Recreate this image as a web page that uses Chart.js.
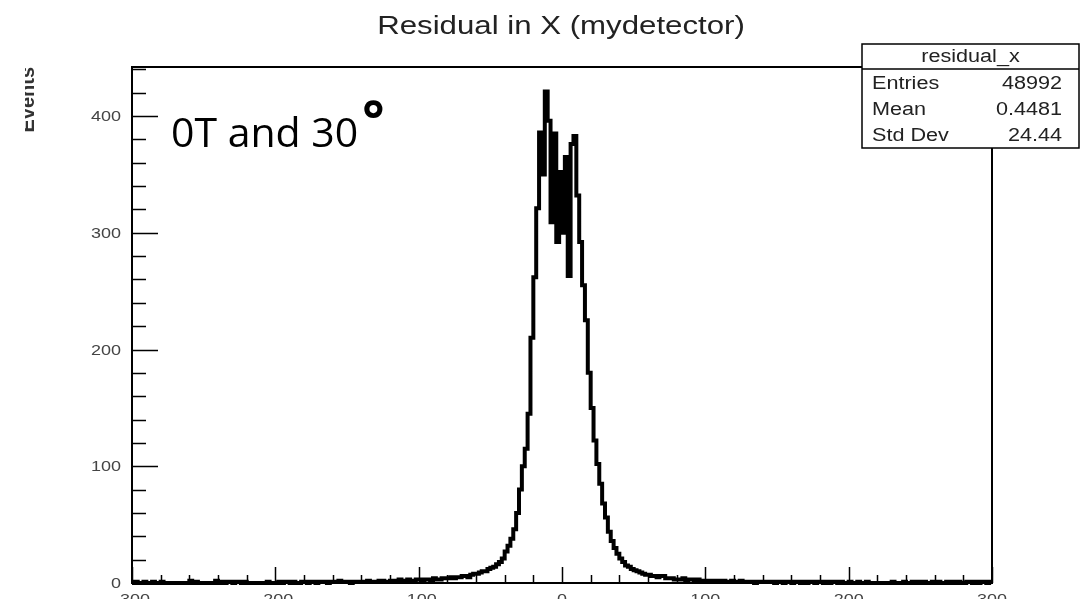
<!DOCTYPE html>
<html>
<head>
<meta charset="utf-8">
<script src="https://cdn.jsdelivr.net/npm/chart.js@4/dist/chart.umd.min.js"></script>
<style>
  html, body { margin: 0; padding: 0; background: #fff; }
  #wrap { width: 1089px; height: 599px; position: relative; }
</style>
</head>
<body>
<div id="wrap"><canvas id="residChart"></canvas></div>
<script>
// histogram binning (2 units per bin, -300 .. 300)
const xMin = -300;
const xMax = 300;
const binWidth = 2;
const yMax = 442;

// bin contents, left to right
const counts = [
  // -300 .. -200
  0,1,0,0,1,0,0,1,0,0, 1,0,0,0,0,0,0,0,0,0, 2,0,1,0,0,0,0,0,0,2,
  0,1,0,1,1,0,1,1,0,1, 0,0,0,0,0,0,0,1,0,0,
  // -200 .. -100
  0,1,0,1,1,0,1,0,0,1, 1,0,1,1,0,1,1,1,0,1, 1,1,2,1,1,1,0,1,1,1,
  1,1,2,1,1,1,2,2,1,1, 2,1,2,3,2,2,3,2,2,3,
  // -100 .. 0
  3,2,3,3,2,4,3,3,4,4, 4,5,4,5,5,6,6,5,7,8, 8,9,10,10,12,13,14,16,18,21,
  27,32,38,46,60,80,100,115,145,210, 262,321,386,350,421,396,309,385,292,352,
  // 0 .. 100
  300,365,263,376,383,332,292,255,225,180, 150,122,102,85,68,56,44,36,30,25,
  21,18,15,14,12,11,10,9,8,7, 7,6,6,5,6,6,4,4,4,3, 3,3,4,2,3,3,2,3,2,2,
  // 100 .. 200
  2,2,1,2,2,1,2,1,1,2, 1,1,2,1,1,1,1,0,1,1, 1,1,1,1,0,1,1,0,1,1,
  0,1,1,0,1,0,1,1,0,1, 1,0,1,0,1,1,0,1,0,0,
  // 200 .. 300
  1,0,0,1,0,0,1,0,0,0, 0,0,0,0,0,1,0,0,0,1, 0,0,1,0,1,0,1,0,0,1,
  0,1,0,0,1,0,1,0,1,0, 0,1,1,0,1,0,1,1,0,1
];

const xTickValues = [-300, -200, -100, 0, 100, 200, 300];
const xTickLabels = ['-300', '-200', '-100', '0', '100', '200', '300'];
const yTickValues = [0, 100, 200, 300, 400];
const yTickLabels = ['0', '100', '200', '300', '400'];

const titleText = 'Residual in X (mydetector)';
const yTitle = 'Events';
const noteText = '0T and 30';
const noteDegree = '\u00B0';
const statsTitle = 'residual_x';
const statsNames = ['Entries', 'Mean', 'Std Dev'];
const statsValues = ['48992', '0.4481', '24.44'];

// step outline points at the bin edges
const points = [];
for (let i = 0; i <= counts.length; i++) {
  points.push({ x: xMin + i * binWidth, y: counts[Math.min(i, counts.length - 1)] });
}

const ROOT_FONT = '"Liberation Sans", Arial, sans-serif';

function stretchText(ctx, str, x, y, size, align, base, sx) {
  ctx.save();
  ctx.translate(x, y);
  ctx.scale(sx, 1);
  ctx.font = size + 'px ' + ROOT_FONT;
  ctx.textAlign = align;
  ctx.textBaseline = base;
  ctx.fillText(str, 0, 0);
  ctx.restore();
}

const decor = {
  id: 'decor',
  afterDatasetsDraw(chart) {
    const { ctx, chartArea: a, scales: { x, y } } = chart;
    ctx.save();

    // frame
    ctx.strokeStyle = '#000';
    ctx.lineWidth = 2;
    ctx.strokeRect(a.left, a.top, a.right - a.left, a.bottom - a.top);

    // y ticks (inside, every 20)
    ctx.lineWidth = 1.5;
    ctx.beginPath();
    for (let v = 0; v <= yMax; v += 20) {
      const py = Math.round(y.getPixelForValue(v)) + 0.5;
      const len = v % 100 === 0 ? 26 : 14;
      ctx.moveTo(a.left, py);
      ctx.lineTo(a.left + len, py);
    }
    // x ticks (inside, every 20)
    for (let v = xMin; v <= xMax; v += 20) {
      const px = Math.round(x.getPixelForValue(v)) + 0.5;
      const len = v % 100 === 0 ? 16 : 8;
      ctx.moveTo(px, a.bottom);
      ctx.lineTo(px, a.bottom - len);
    }
    ctx.stroke();

    // tick labels
    ctx.fillStyle = '#444';
    yTickValues.forEach((v, i) => {
      stretchText(ctx, yTickLabels[i], 121, y.getPixelForValue(v) + 1, 15, 'right', 'middle', 1.2);
    });
    xTickValues.forEach((v, i) => {
      stretchText(ctx, xTickLabels[i], x.getPixelForValue(v), 592, 15, 'center', 'top', 1.2);
    });

    // title
    ctx.fillStyle = '#222';
    stretchText(ctx, titleText, 561, 34, 26, 'center', 'alphabetic', 1.2);

    // y axis title, partly cut at the left like the picture
    ctx.save();
    ctx.beginPath();
    ctx.rect(25, 0, 40, 200);
    ctx.clip();
    ctx.translate(34, 67);
    ctx.rotate(-Math.PI / 2);
    ctx.font = 'bold 20px ' + ROOT_FONT;
    ctx.textAlign = 'right';
    ctx.textBaseline = 'alphabetic';
    ctx.fillStyle = '#333';
    ctx.fillText(yTitle, 0, 0);
    ctx.restore();

    // annotation
    ctx.fillStyle = '#000';
    ctx.font = '41px "Open Sans", "Noto Sans", sans-serif';
    ctx.textAlign = 'left';
    ctx.textBaseline = 'alphabetic';
    ctx.fillText(noteText, 171, 147);
    const w = ctx.measureText(noteText).width;
    ctx.font = 'bold 52px "Open Sans", "Noto Sans", sans-serif';
    ctx.fillText(noteDegree, 171 + w + 4, 138);

    // stats box
    const bx = 862, by = 44, bw = 217, bh = 104;
    ctx.fillStyle = '#fff';
    ctx.fillRect(bx, by, bw, bh);
    ctx.strokeStyle = '#000';
    ctx.lineWidth = 1.5;
    ctx.strokeRect(bx, by, bw, bh);
    ctx.beginPath();
    ctx.moveTo(bx, 69);
    ctx.lineTo(bx + bw, 69);
    ctx.stroke();
    ctx.fillStyle = '#222';
    stretchText(ctx, statsTitle, bx + bw / 2, 57, 18, 'center', 'middle', 1.2);
    const rowY = [84, 110, 136];
    statsNames.forEach((n, i) => {
      stretchText(ctx, n, 872, rowY[i], 18, 'left', 'middle', 1.2);
      stretchText(ctx, statsValues[i], 1062, rowY[i], 18, 'right', 'middle', 1.2);
    });

    ctx.restore();
  }
};

const ctx = document.getElementById('residChart').getContext('2d');

const residChart = new Chart(ctx, {
  type: 'line',
  data: {
    datasets: [{
      label: statsTitle,
      data: points,
      stepped: 'before',
      borderColor: '#000',
      borderWidth: 4,
      borderJoinStyle: 'miter',
      pointRadius: 0,
      fill: false,
      clip: 4
    }]
  },
  options: {
    responsive: true,
    maintainAspectRatio: false,
    animation: false,
    layout: {
      padding: { left: 132, right: 97, top: 67, bottom: 16 }
    },
    plugins: {
      legend: { display: false },
      tooltip: { enabled: false }
    },
    scales: {
      x: { type: 'linear', min: xMin, max: xMax, display: false },
      y: { min: 0, max: yMax, display: false }
    }
  },
  plugins: [decor]
});
</script>
</body>
</html>
